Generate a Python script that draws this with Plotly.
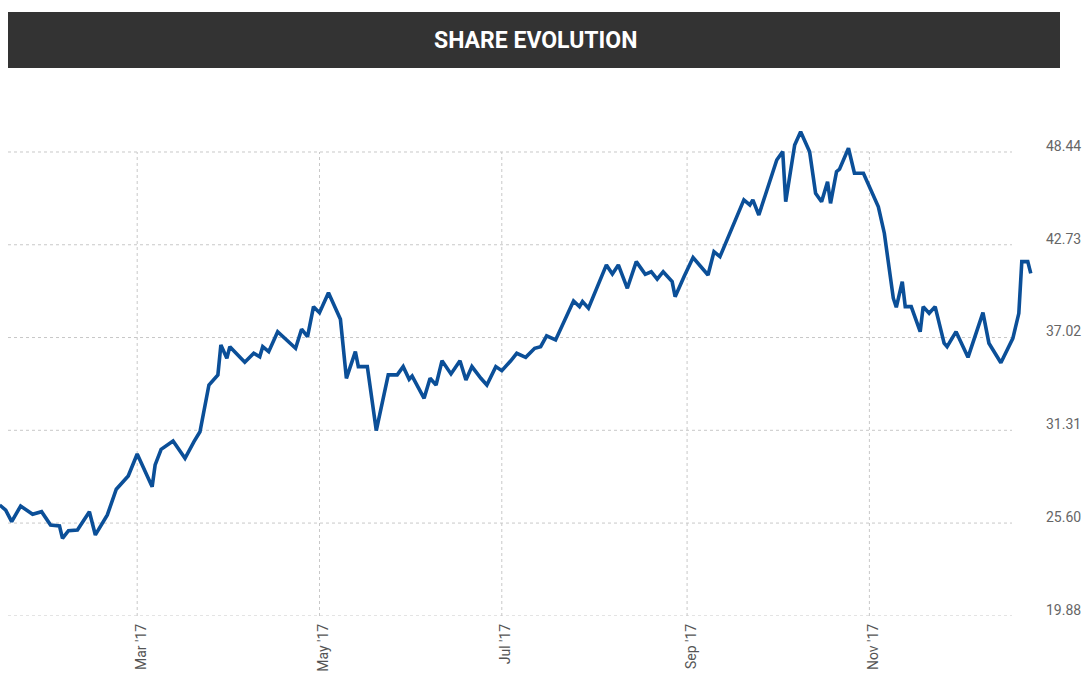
import plotly.graph_objects as go

dates = [
    "2017-01-14", "2017-01-16", "2017-01-18", "2017-01-21", "2017-01-25", "2017-01-28", "2017-01-31",
    "2017-02-03", "2017-02-04", "2017-02-06", "2017-02-09", "2017-02-13", "2017-02-15", "2017-02-19",
    "2017-02-22", "2017-02-26", "2017-03-01", "2017-03-04", "2017-03-06", "2017-03-07", "2017-03-09",
    "2017-03-13", "2017-03-17", "2017-03-20", "2017-03-22", "2017-03-25", "2017-03-28", "2017-03-29",
    "2017-03-31", "2017-04-01", "2017-04-03", "2017-04-06", "2017-04-09", "2017-04-11", "2017-04-12",
    "2017-04-14", "2017-04-17", "2017-04-23", "2017-04-25", "2017-04-27", "2017-04-29", "2017-05-01",
    "2017-05-04", "2017-05-08", "2017-05-10", "2017-05-13", "2017-05-14", "2017-05-17", "2017-05-20",
    "2017-05-24", "2017-05-27", "2017-05-29", "2017-05-31", "2017-06-01", "2017-06-05", "2017-06-07",
    "2017-06-09", "2017-06-11", "2017-06-14", "2017-06-17", "2017-06-19", "2017-06-21", "2017-06-24",
    "2017-06-26", "2017-06-29", "2017-07-01", "2017-07-04", "2017-07-06", "2017-07-09", "2017-07-12",
    "2017-07-14", "2017-07-16", "2017-07-19", "2017-07-22", "2017-07-25", "2017-07-27", "2017-07-28",
    "2017-07-30", "2017-08-05", "2017-08-07", "2017-08-09", "2017-08-12", "2017-08-15", "2017-08-18",
    "2017-08-20", "2017-08-22", "2017-08-24", "2017-08-27", "2017-08-28", "2017-08-31", "2017-09-03",
    "2017-09-08", "2017-09-10", "2017-09-12", "2017-09-20", "2017-09-22", "2017-09-23", "2017-09-25",
    "2017-10-01", "2017-10-03", "2017-10-04", "2017-10-07", "2017-10-09", "2017-10-12", "2017-10-14",
    "2017-10-16", "2017-10-18", "2017-10-19", "2017-10-21", "2017-10-22", "2017-10-25", "2017-10-27",
    "2017-10-30", "2017-11-04", "2017-11-06", "2017-11-09", "2017-11-10", "2017-11-12", "2017-11-13",
    "2017-11-15", "2017-11-18", "2017-11-19", "2017-11-21", "2017-11-23", "2017-11-26", "2017-11-27",
    "2017-11-30", "2017-12-04", "2017-12-09", "2017-12-11", "2017-12-15", "2017-12-19", "2017-12-21",
    "2017-12-22", "2017-12-24", "2017-12-25",
]

prices = [
    26.71, 26.40, 25.69, 26.65, 26.14, 26.30, 25.48,
    25.42, 24.66, 25.13, 25.17, 26.30, 24.87, 26.10,
    27.68, 28.50, 29.85, 28.62, 27.84, 29.18, 30.14,
    30.65, 29.59, 30.61, 31.22, 34.10, 34.72, 36.56,
    35.74, 36.46, 36.09, 35.50, 36.05, 35.84, 36.46,
    36.15, 37.38, 36.36, 37.53, 37.07, 38.92, 38.55,
    39.78, 38.14, 34.51, 36.15, 35.23, 35.23, 31.29,
    34.72, 34.72, 35.23, 34.45, 34.65, 33.28, 34.51,
    34.10, 35.59, 34.78, 35.59, 34.41, 35.23, 34.51,
    34.10, 35.23, 34.98, 35.59, 36.05, 35.80, 36.36,
    36.46, 37.12, 36.87, 38.10, 39.27, 38.92, 39.23,
    38.82, 41.49, 40.93, 41.49, 40.05, 41.69, 40.91,
    41.07, 40.61, 41.07, 40.46, 39.53, 40.77, 41.94,
    40.87, 42.30, 42.00, 45.49, 45.18, 45.49, 44.56,
    47.95, 48.46, 45.38, 48.87, 49.69, 48.46, 45.90,
    45.38, 46.61, 45.28, 47.23, 47.38, 48.67, 47.13,
    47.13, 45.07, 43.44, 39.44, 38.88, 40.46, 38.92,
    38.92, 37.38, 38.92, 38.51, 38.92, 36.67, 36.46,
    37.38, 35.80, 38.55, 36.67, 35.47, 36.97, 38.51,
    41.69, 41.69, 40.97,
]

x_tick_vals = ["2017-03-01", "2017-05-01", "2017-07-01", "2017-09-01", "2017-11-01"]
x_tick_text = ["Mar '17", "May '17", "Jul '17", "Sep '17", "Nov '17"]
y_tick_vals = [19.88, 25.60, 31.31, 37.02, 42.73, 48.44]
y_tick_text = ["19.88", "25.60", "31.31", "37.02", "42.73", "48.44"]

title_text = "SHARE EVOLUTION"

W, H = 1090, 687
plot_left, plot_right = 0, 1036
plot_top, plot_bottom = 100, 616

def px_to_paper_x(px):
    return (px - plot_left) / (plot_right - plot_left)

def px_to_paper_y(py):
    return (plot_bottom - py) / (plot_bottom - plot_top)

grid_color = "#c8c8c8"

fig = go.Figure()
fig.add_trace(go.Scatter(
    x=dates, y=prices, mode="lines",
    line=dict(color="#0b4f98", width=3.6),
    hoverinfo="x+y", showlegend=False,
))

shapes = []
# title bar
shapes.append(dict(
    type="rect", xref="paper", yref="paper",
    x0=px_to_paper_x(8), x1=px_to_paper_x(1060),
    y0=px_to_paper_y(68), y1=px_to_paper_y(12),
    fillcolor="#333333", line=dict(width=0), layer="above",
))
# horizontal grid lines at y ticks
for v in y_tick_vals:
    shapes.append(dict(
        type="line", xref="paper", yref="y",
        x0=px_to_paper_x(8), x1=px_to_paper_x(1012), y0=v, y1=v,
        line=dict(color=grid_color, width=1, dash="dot"), layer="below",
    ))
# vertical grid lines at x ticks
for d in x_tick_vals:
    shapes.append(dict(
        type="line", xref="x", yref="y",
        x0=d, x1=d, y0=y_tick_vals[0], y1=y_tick_vals[-1],
        line=dict(color=grid_color, width=1, dash="dot"), layer="below",
    ))

fig.update_layout(
    width=W, height=H,
    margin=dict(l=plot_left, r=W - plot_right, t=plot_top, b=H - plot_bottom),
    paper_bgcolor="white", plot_bgcolor="white",
    font=dict(family="Roboto, 'Open Sans', sans-serif", color="#666666", size=14),
    shapes=shapes,
    annotations=[dict(
        text="<b>" + title_text + "</b>", xref="paper", yref="paper",
        x=px_to_paper_x(535), y=px_to_paper_y(40),
        xanchor="center", yanchor="middle", showarrow=False,
        font=dict(family="Roboto, sans-serif", size=23, color="white"),
    )],
    xaxis=dict(
        type="date",
        range=["2017-01-14 02:10", "2017-12-26 18:00"],
        tickvals=x_tick_vals, ticktext=x_tick_text,
        tickangle=-90, showgrid=False, zeroline=False, showline=False,
        ticks="", ticklabelstandoff=4, ticklabelshift=4,
        tickfont=dict(size=14, color="#555555"),
        fixedrange=True,
    ),
    yaxis=dict(
        range=[19.88, 51.64], side="right",
        tickvals=y_tick_vals, ticktext=y_tick_text,
        showgrid=False, zeroline=False, showline=False,
        ticks="", ticklabelstandoff=9, ticklabelshift=-6,
        tickfont=dict(size=14, color="#666666"),
        fixedrange=True,
    ),
)

fig.write_html(
    "out.html",
    config={"displayModeBar": False},
    post_script="document.body.style.margin='0';document.body.style.overflow='hidden';",
)
